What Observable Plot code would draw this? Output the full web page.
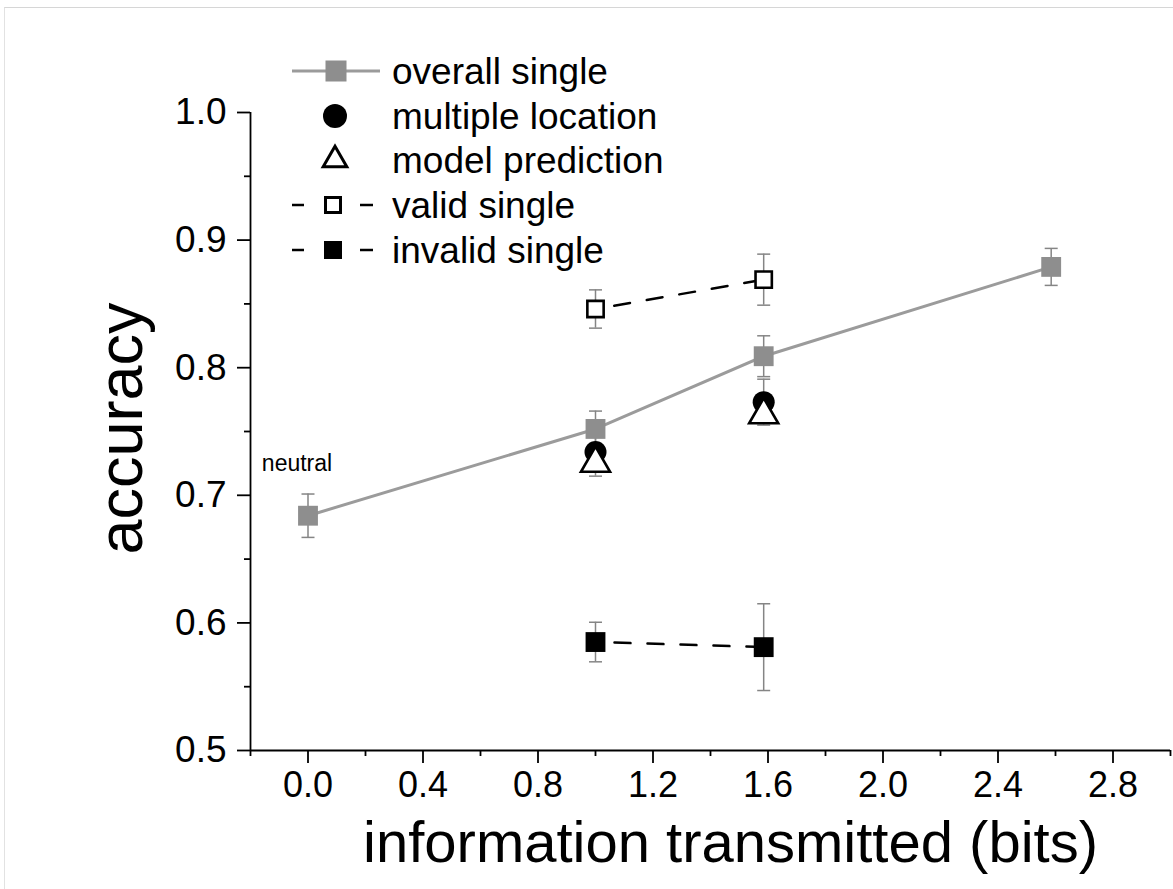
<!DOCTYPE html>
<html>
<head>
<meta charset="utf-8">
<script src="https://cdn.jsdelivr.net/npm/d3@7"></script>
<script src="https://cdn.jsdelivr.net/npm/@observablehq/plot@0.6"></script>
<style>
  html, body { margin: 0; padding: 0; background: #fff; }
  #wrap { position: relative; width: 1173px; height: 889px; overflow: hidden; font-family: "Liberation Sans", Arial, sans-serif; }
  #edge { position: absolute; left: 4px; top: 7px; right: -2px; bottom: -2px; border-top: 1px solid #d6d6d6; border-left: 1px solid #e2e2e2; }
  #chart { position: absolute; left: 0; top: 0; }
  #legend { position: absolute; left: 0; top: 0; }
</style>
</head>
<body>
<div id="wrap">
  <div id="edge"></div>
  <div id="chart"></div>
  <svg id="legend" width="900" height="290"></svg>
</div>
<script>
// Information transmitted (bits) for each cue condition
const xOverall = [0, 1, 1.585, 2.585];
const xCued = [1, 1.585];

// Accuracy and standard errors per series
const overallAcc = [0.684, 0.752, 0.809, 0.879];
const overallErr = [0.017, 0.014, 0.016, 0.0145];
const multipleAcc = [0.734, 0.773];
const multipleErr = [0.019, 0.018];
const modelAcc = [0.725, 0.763];
const validAcc = [0.846, 0.869];
const validErr = [0.015, 0.020];
const invalidAcc = [0.585, 0.581];
const invalidErr = [0.0155, 0.034];

// Axis ticks
const xMajor = [0, 0.4, 0.8, 1.2, 1.6, 2.0, 2.4, 2.8];
const xMinor = [-0.2, 0.2, 0.6, 1.0, 1.4, 1.8, 2.2, 2.6, 3.0];
const yMajor = [0.5, 0.6, 0.7, 0.8, 0.9, 1.0];
const yMinor = [0.55, 0.65, 0.75, 0.85, 0.95];

// Text
const xTitle = "information transmitted (bits)";
const yTitle = "accuracy";
const neutralLabel = "neutral";
const legendNames = ["overall single", "multiple location", "model prediction", "valid single", "invalid single"];

const GRAY_LINE = "#9b9b9b";
const GRAY_FILL = "#8e8e8e";
const ERR = "#858585";

const rows = (xs, ys, es) => xs.map((x, i) => ({x, y: ys[i], e: es ? es[i] : 0}));
const overall = rows(xOverall, overallAcc, overallErr);
const multiple = rows(xCued, multipleAcc, multipleErr);
const model = rows(xCued, modelAcc);
const valid = rows(xCued, validAcc, validErr);
const invalid = rows(xCued, invalidAcc, invalidErr);
const withErr = [...overall, ...valid, ...invalid, ...multiple];

// horizontal cap for error bars; half-width equals the dot radius
const capSymbol = {
  draw(ctx, size) {
    const w = Math.sqrt(size / Math.PI);
    ctx.moveTo(-w, 0);
    ctx.lineTo(w, 0);
  }
};

const fmt = d3.format(".1f");

const chart = Plot.plot({
  width: 1173,
  height: 889,
  marginLeft: 250,
  marginRight: 3,
  marginTop: 112,
  marginBottom: 139,
  style: {fontFamily: "'Liberation Sans', Arial, sans-serif", color: "#000", background: "transparent"},
  x: {domain: [-0.2, 3.0]},
  y: {domain: [0.5, 1.0]},
  marks: [
    // axes
    Plot.axisX({ticks: xMajor, tickSize: 13, tickPadding: 8, tickFormat: fmt, fontSize: 36, strokeWidth: 1.8, label: null}),
    Plot.axisX({ticks: xMinor, tickSize: 6, tickFormat: () => "", strokeWidth: 1.8, label: null}),
    Plot.axisY({ticks: yMajor, tickSize: 13, tickPadding: 11, tickFormat: fmt, fontSize: 37, strokeWidth: 1.8, label: null}),
    Plot.axisY({ticks: yMinor, tickSize: 6, tickFormat: () => "", strokeWidth: 1.8, label: null}),
    Plot.ruleX([-0.2], {stroke: "#000", strokeWidth: 1.8}),
    Plot.ruleY([0.5], {stroke: "#000", strokeWidth: 1.8}),
    Plot.text([xTitle], {frameAnchor: "bottom", text: d => d, textAnchor: "middle", dx: 20, dy: 70, lineAnchor: "top", fontSize: 58, fill: "#000"}),
    Plot.text([yTitle], {frameAnchor: "left", text: d => d, textAnchor: "middle", rotate: -90, dx: -129, dy: -3, fontSize: 63, fill: "#000"}),

    // connecting lines
    Plot.line(overall, {x: "x", y: "y", stroke: GRAY_LINE, strokeWidth: 3}),
    Plot.line(valid, {x: "x", y: "y", stroke: "#000", strokeWidth: 2.5, strokeDasharray: "16,17", strokeDashoffset: 14}),
    Plot.line(invalid, {x: "x", y: "y", stroke: "#000", strokeWidth: 2.5, strokeDasharray: "16,17", strokeDashoffset: 14}),

    // error bars
    Plot.ruleX(withErr, {x: "x", y1: d => d.y - d.e, y2: d => d.y + d.e, stroke: ERR, strokeWidth: 1.5}),
    Plot.dot(withErr, {x: "x", y: d => d.y + d.e, symbol: capSymbol, r: 6.5, stroke: ERR, strokeWidth: 1.5, fill: "none"}),
    Plot.dot(withErr, {x: "x", y: d => d.y - d.e, symbol: capSymbol, r: 6.5, stroke: ERR, strokeWidth: 1.5, fill: "none"}),

    // markers
    Plot.dot(overall, {x: "x", y: "y", symbol: "square", r: 11.2, fill: GRAY_FILL, stroke: "none"}),
    Plot.dot(valid, {x: "x", y: "y", symbol: "square", r: 9.2, fill: "#fff", stroke: "#000", strokeWidth: 2.6}),
    Plot.dot(invalid, {x: "x", y: "y", symbol: "square", r: 11.2, fill: "#000", stroke: "none"}),
    Plot.dot(multiple, {x: "x", y: "y", symbol: "circle", r: 11, fill: "#000", stroke: "none"}),
    Plot.dot(model, {x: "x", y: "y", symbol: "triangle", r: 10.8, fill: "#fff", stroke: "#000", strokeWidth: 2.6}),

    // condition annotation at zero bits
    Plot.text(overall.slice(0, 1), {x: "x", y: "y", text: () => neutralLabel, dx: -11, dy: -52, fontSize: 23, fill: "#000"})
  ]
});
document.getElementById("chart").appendChild(chart);

// legend (symbol column + names)
const lg = d3.select("#legend");
const rowY = [71, 116, 160, 205, 250];
const symX = 335;
const textX = 392;

// overall single: gray line with gray square
lg.append("line").attr("x1", 292).attr("x2", 380).attr("y1", rowY[0]).attr("y2", rowY[0])
  .attr("stroke", GRAY_LINE).attr("stroke-width", 3);
lg.append("rect").attr("x", symX + 1 - 10.5).attr("y", rowY[0] - 10.5).attr("width", 21).attr("height", 21)
  .attr("fill", GRAY_FILL);
// multiple location: filled circle
lg.append("circle").attr("cx", symX).attr("cy", rowY[1]).attr("r", 12).attr("fill", "#000");
// model prediction: open triangle
lg.append("path").attr("d", d3.symbol(d3.symbolTriangle2, 400)())
  .attr("transform", `translate(${symX},${rowY[2]})`)
  .attr("fill", "#fff").attr("stroke", "#000").attr("stroke-width", 3);
// valid / invalid single: dashed line with square
[3, 4].forEach(i => {
  lg.append("line").attr("x1", 292).attr("x2", 304).attr("y1", rowY[i]).attr("y2", rowY[i])
    .attr("stroke", "#000").attr("stroke-width", 2.5);
  lg.append("line").attr("x1", 360).attr("x2", 373).attr("y1", rowY[i]).attr("y2", rowY[i])
    .attr("stroke", "#000").attr("stroke-width", 2.5);
});
lg.append("rect").attr("x", 333 - 7.5).attr("y", rowY[3] - 7.5).attr("width", 15).attr("height", 15)
  .attr("fill", "#fff").attr("stroke", "#000").attr("stroke-width", 3);
lg.append("rect").attr("x", 333 - 9).attr("y", rowY[4] - 9).attr("width", 18).attr("height", 18)
  .attr("fill", "#000");

lg.selectAll("text.name").data(legendNames).join("text")
  .attr("class", "name")
  .attr("x", textX).attr("y", (d, i) => rowY[i])
  .attr("dy", "0.35em")
  .attr("font-size", 37)
  .attr("font-family", "'Liberation Sans', Arial, sans-serif")
  .attr("fill", "#000")
  .text(d => d);
</script>
</body>
</html>
